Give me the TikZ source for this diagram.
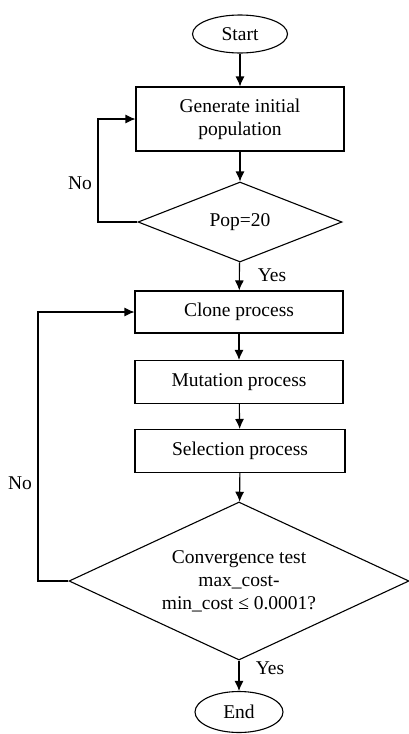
\documentclass[tikz,border=0pt]{standalone}
\usepackage{fontspec}
\setmainfont{Liberation Serif}
\usetikzlibrary{shapes.geometric,arrows.meta}
\begin{document}
\begin{tikzpicture}[x=1pt,y=-1pt,
  every node/.style={font=\fontsize{19.5}{23}\selectfont},
  line/.style={line width=1.1pt},
  arr/.style={line, -{Latex[length=10pt,width=9pt]}},
  term/.style={ellipse, draw, line width=1.1pt, inner sep=0pt},
  proc/.style={rectangle, draw, line width=1.1pt, inner sep=0pt, align=center},
  decide/.style={diamond, draw, line width=1.1pt, inner sep=0pt, align=center},
  lbl/.style={inner sep=0pt}]
\useasboundingbox (0,0) rectangle (409,734);
\node[term, minimum width=95pt, minimum height=38pt] (start) at (240,34) {Start};
\node[proc, minimum width=208pt, minimum height=64pt] (gen) at (240,119) {Generate initial\\population};
\node[decide, aspect=2.55, minimum width=204pt, minimum height=80pt] (pop) at (240,222) {Pop=20};
\node[proc, minimum width=208pt, minimum height=42pt] (clone) at (239,312) {Clone process};
\node[proc, minimum width=208pt, minimum height=43pt] (mut) at (239,382) {Mutation process};
\node[proc, minimum width=210pt, minimum height=43pt] (sel) at (240,451) {Selection process};
\node[decide, aspect=2.16, minimum width=340pt, minimum height=158pt] (conv) at (239,581) {Convergence test\\max\_cost-\\min\_cost ≤ 0.0001?};
\node[term, minimum width=88pt, minimum height=41pt] (end) at (239,712) {End};
\coordinate (n1) at (98,222);
\coordinate (n2) at (38,581);
\draw[arr] (start) -- (gen);
\draw[arr] (gen) -- (pop);
\draw[arr] (pop) -- (clone);
\draw[arr] (clone) -- (mut);
\draw[arr] (mut) -- (sel);
\draw[arr] (sel) -- (conv);
\draw[arr] (conv) -- (end);
\draw[arr] (pop.west) -- (n1) |- (gen.west);
\draw[arr] (conv.west) -- (n2) |- (clone.west);
\node[lbl] (no1) at (80,183) {No};
\node[lbl] (yes1) at (272,275) {Yes};
\node[lbl] (no2) at (20,483) {No};
\node[lbl] (yes2) at (270,668) {Yes};
\end{tikzpicture}
\end{document}
